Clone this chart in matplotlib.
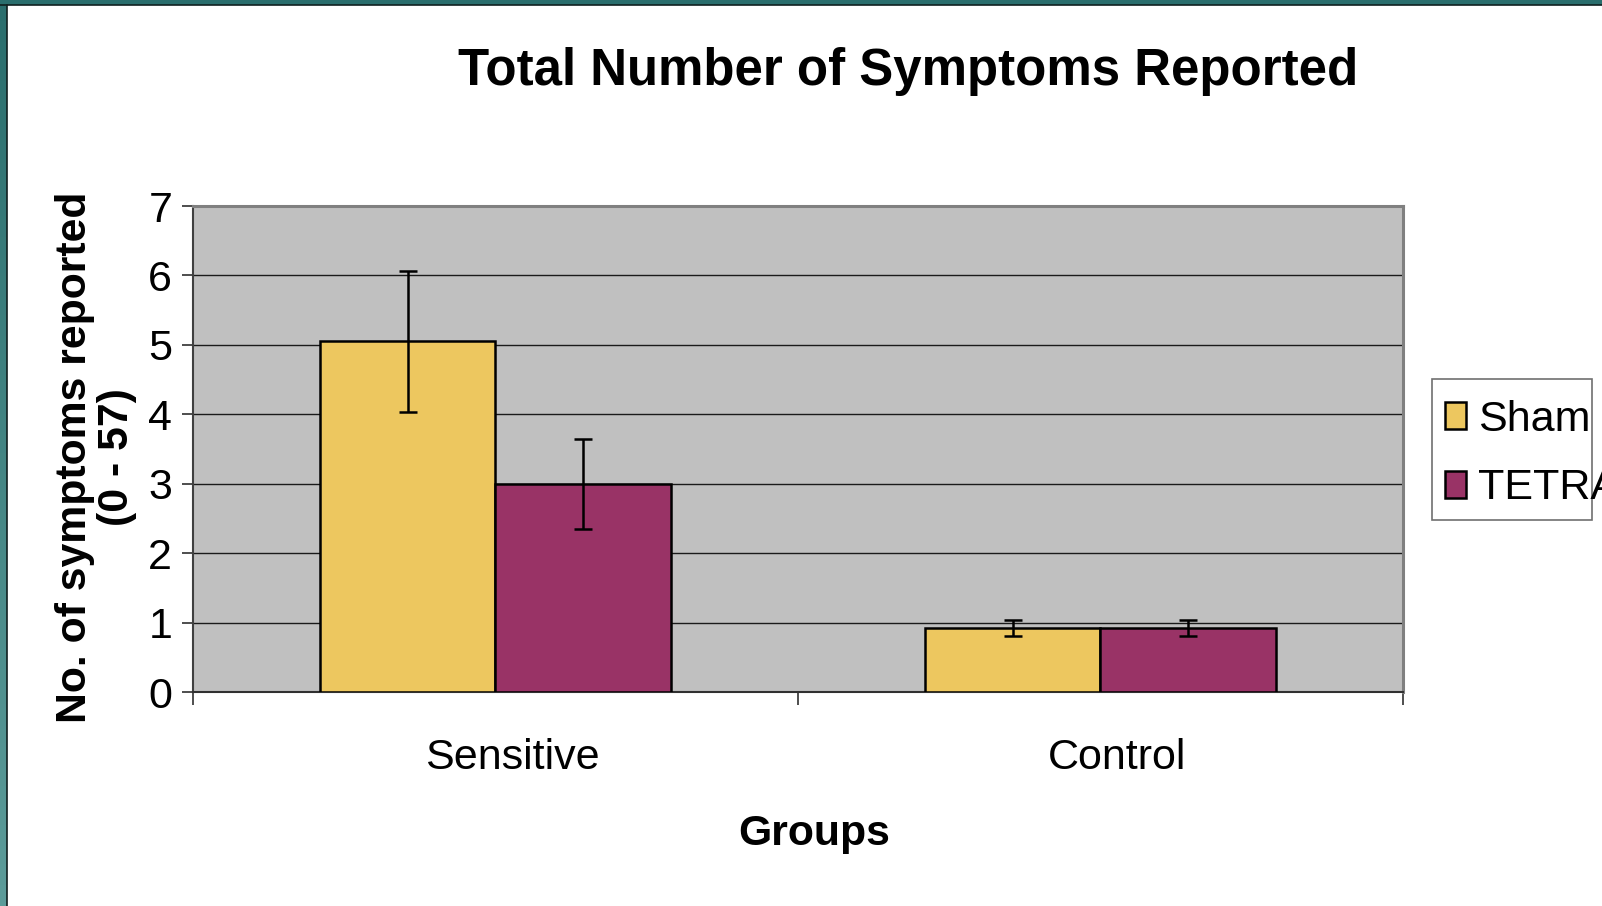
import numpy as np
import matplotlib
matplotlib.use("Agg")
import matplotlib.pyplot as plt
from matplotlib.patches import Rectangle
from matplotlib.transforms import ScaledTranslation

plt.rcParams['font.family'] = ['Liberation Sans', 'DejaVu Sans']

# data
groups = ["Sensitive", "Control"]
series = ["Sham", "TETRA"]
sham_mean = [5.05, 0.92]
sham_err = [1.02, 0.12]
tetra_mean = [3.00, 0.92]
tetra_err = [0.65, 0.12]
yticks = [0, 1, 2, 3, 4, 5, 6, 7]

colors = {"Sham": "#EDC75F", "TETRA": "#993366"}

fig = plt.figure(figsize=(16.02, 9.06), dpi=100)
fig.patch.set_facecolor('white')

# teal slide border (left gradient strip + top strip)
bax = fig.add_axes([0, 0, 7 / 1602, 1])
grad = np.linspace(0, 1, 256).reshape(-1, 1)
cmap = matplotlib.colors.LinearSegmentedColormap.from_list("teal", ["#2A6E6D", "#5C9C9A"])
bax.imshow(grad, aspect='auto', cmap=cmap, extent=[0, 1, 0, 1], origin='upper')
bax.axis('off')
fig.patches.append(Rectangle((0, 1 - 5 / 906), 1, 5 / 906, transform=fig.transFigure,
                             facecolor="#2A6E6D", edgecolor='none', zorder=5))
fig.add_artist(plt.Line2D([0, 1], [1 - 5 / 906, 1 - 5 / 906], transform=fig.transFigure,
                          color='#102020', lw=1.2, zorder=6))
fig.add_artist(plt.Line2D([7 / 1602, 7 / 1602], [0, 1 - 5 / 906], transform=fig.transFigure,
                          color='#102020', lw=1.2, zorder=6))

ax = fig.add_axes([193 / 1602, 1 - 692 / 906, 1210 / 1602, 486 / 906])
ax.set_facecolor('#C0C0C0')

x = np.arange(len(groups))
w = 0.29
ekw = dict(ecolor='black', elinewidth=1.8, capsize=6.5, capthick=1.8)
b1 = ax.bar(x - w / 2, sham_mean, w, yerr=sham_err, color=colors["Sham"],
            edgecolor='black', linewidth=1.8, label="Sham", error_kw=ekw, zorder=3)
b2 = ax.bar(x + w / 2, tetra_mean, w, yerr=tetra_err, color=colors["TETRA"],
            edgecolor='black', linewidth=1.8, label="TETRA", error_kw=ekw, zorder=3)

ax.set_xlim(-0.5, 1.5)
ax.set_ylim(0, 7)
ax.set_yticks(yticks)
ax.yaxis.grid(True, color='#1a1a1a', linewidth=1.0, zorder=1)
ax.set_axisbelow(True)

# category boundaries as ticks, labels at centres
ax.set_xticks([-0.5, 0.5, 1.5])
ax.set_xticklabels([])
ax.set_xticks(x, minor=True)
ax.set_xticklabels(groups, minor=True, fontsize=31)
ax.tick_params(axis='x', which='major', direction='out', length=9.5, width=1.2, color='#303030')
ax.tick_params(axis='x', which='minor', length=0, pad=33)
for lab in ax.get_xticklabels(minor=True):
    lab.set_transform(lab.get_transform() + ScaledTranslation(0.17, 0, fig.dpi_scale_trans))
ax.tick_params(axis='y', direction='out', length=8, width=1.2, color='#303030',
               labelsize=31, pad=7)

for s in ['top', 'right']:
    ax.spines[s].set_color('#808080')
    ax.spines[s].set_linewidth(2.2)
ax.spines['left'].set_color('#404040')
ax.spines['left'].set_linewidth(1.5)
ax.spines['bottom'].set_color('#303030')
ax.spines['bottom'].set_linewidth(1.5)

fig.text(908 / 1602, 1 - 72 / 906, "Total Number of Symptoms Reported",
         fontsize=36.7, fontweight='bold', ha='center', va='center')
fig.text(814 / 1602, 1 - 834 / 906, "Groups", fontsize=30.8, fontweight='bold',
         ha='center', va='center')
fig.text(96 / 1602, 1 - 457 / 906, "No. of symptoms reported\n(0 - 57)", fontsize=30.8,
         fontweight='bold', ha='center', va='center', rotation=90, linespacing=1.08,
         multialignment='center')

# legend, frame drawn separately so the text runs past it (clipped) like the original
leg = fig.legend(handles=[b1, b2], labels=series, loc='upper left',
                 bbox_to_anchor=(1445 / 1602, 1 - 400 / 906), frameon=False,
                 fontsize=31, handlelength=0.49, handleheight=0.6, handletextpad=0.28,
                 labelspacing=0.66, borderpad=0, borderaxespad=0)
fig.patches.append(Rectangle((1432 / 1602, 1 - 520 / 906), 160 / 1602, 141 / 906,
                             transform=fig.transFigure, facecolor='none',
                             edgecolor='#707070', linewidth=1.2))

fig.savefig("out.png", dpi=100)
